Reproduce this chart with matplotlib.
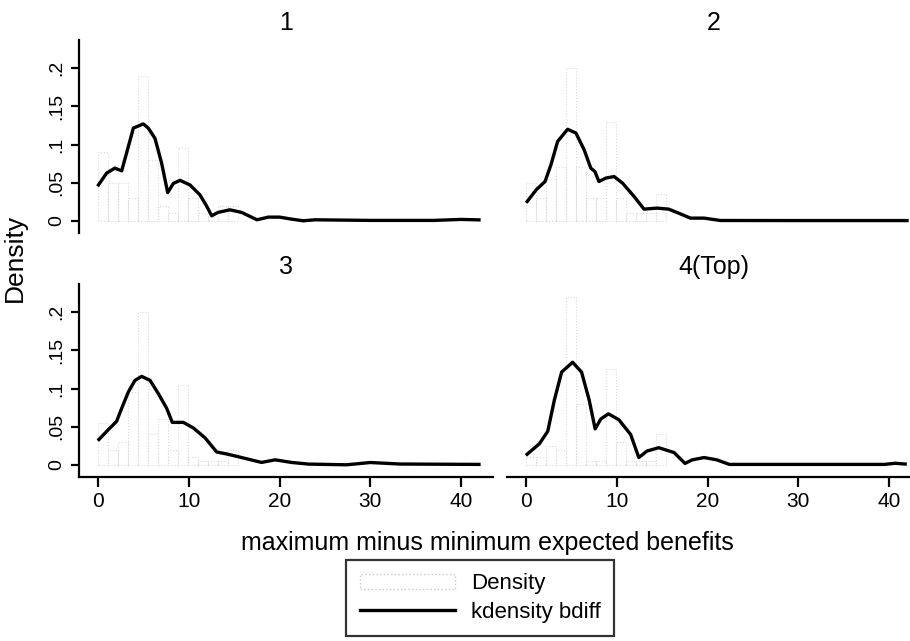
import matplotlib
matplotlib.use('Agg')
import matplotlib.pyplot as plt
from matplotlib.patches import Patch
from matplotlib.lines import Line2D

plt.rcParams['font.family'] = ['Liberation Sans', 'DejaVu Sans']

# kdensity of bdiff by group (x = benefit difference, y = density)
k1_x = [0, 0.9, 1.8, 2.56, 3.1, 3.85, 4.95, 5.5, 6.24, 6.97, 7.64, 8.27, 9.0, 10.1, 11.2, 11.95, 12.5,
        13.2, 14.5, 15.8, 17.5, 18.75, 20.0, 21.3, 22.6, 23.9, 30, 37, 40, 42]
k1_y = [0.047, 0.0625, 0.069, 0.0655, 0.0887, 0.1215, 0.127, 0.1215, 0.108, 0.0756, 0.037, 0.049, 0.053,
        0.047, 0.034, 0.019, 0.0066, 0.011, 0.0144, 0.011, 0.0013, 0.0048, 0.0048, 0.0022, 0.0, 0.0013,
        0.0005, 0.0005, 0.0018, 0.0012]

k2_x = [0.08, 1.07, 2.05, 2.7, 3.44, 4.54, 5.46, 6.37, 7.1, 7.55, 8.0, 8.76, 9.67, 10.6, 11.87, 12.97,
        14.4, 15.7, 16.8, 18.1, 19.6, 21.4, 30, 42]
k2_y = [0.0253, 0.0406, 0.0515, 0.0734, 0.104, 0.120, 0.115, 0.093, 0.069, 0.0646, 0.0515, 0.056, 0.058,
        0.0494, 0.032, 0.0153, 0.0166, 0.0153, 0.010, 0.0035, 0.0035, 0.0004, 0.0003, 0.0003]

k3_x = [0.05, 1.08, 2.0, 2.56, 3.3, 4.03, 4.77, 5.69, 6.6, 7.53, 8.15, 9.37, 10.47, 11.76, 13.05, 14.3,
        15.8, 18.0, 19.5, 21.3, 23.2, 27.4, 30.0, 33.3, 42]
k3_y = [0.0332, 0.046, 0.0569, 0.074, 0.0956, 0.1107, 0.1159, 0.1107, 0.0935, 0.074, 0.0556, 0.0556,
        0.0483, 0.0354, 0.0168, 0.0138, 0.0095, 0.0031, 0.0065, 0.0031, 0.0009, 0.0, 0.003, 0.001, 0.0005]

k4_x = [0.07, 1.43, 2.35, 3.08, 3.88, 5.09, 6.08, 6.92, 7.58, 8.2, 9.05, 10.2, 11.5, 12.4, 13.3, 14.6,
        16.3, 17.5, 18.3, 19.6, 21.0, 22.4, 24, 39.5, 40.7, 41.8]
k4_y = [0.0138, 0.0276, 0.044, 0.085, 0.1215, 0.1344, 0.1215, 0.085, 0.047, 0.06, 0.0668, 0.059, 0.0397,
        0.0095, 0.018, 0.0224, 0.016, 0.0018, 0.0065, 0.0095, 0.0065, 0.0005, 0.0005, 0.0005, 0.002, 0.001]

# histogram heights, bins of width 1.1 starting at 0
bin_w = 1.1
h1 = [0.09, 0.05, 0.05, 0.03, 0.19, 0.08, 0.02, 0.01, 0.095, 0.03, 0.01, 0.005, 0.02, 0.02]
h2 = [0.05, 0.03, 0.055, 0.07, 0.2, 0.07, 0.03, 0.03, 0.13, 0.03, 0.01, 0.01, 0.01, 0.035]
h3 = [0.055, 0.02, 0.03, 0.095, 0.2, 0.04, 0.06, 0.02, 0.105, 0.01, 0.005, 0.005, 0.005, 0.02]
h4 = [0.01, 0.01, 0.025, 0.02, 0.22, 0.08, 0.005, 0.005, 0.125, 0.03, 0.005, 0.005, 0.005, 0.04]

groups = ['1', '2', '3', '4(Top)']
kx = [k1_x, k2_x, k3_x, k4_x]
ky = [k1_y, k2_y, k3_y, k4_y]
hist = [h1, h2, h3, h4]

yticks = [0, 0.05, 0.1, 0.15, 0.2]
ytick_labels = ['0', '.05', '.1', '.15', '.2']
xticks = [0, 10, 20, 30, 40]

W, H = 910.0, 641.0
fig = plt.figure(figsize=(9.1, 6.41), dpi=100)

# panel boxes in pixels: left, top (all the same size)
boxes = [(79, 40), (507, 40), (79, 284), (507, 284)]
pw, ph = 414, 193

for i in range(4):
    left, top = boxes[i]
    ax = fig.add_axes([left / W, 1 - (top + ph) / H, pw / W, ph / H])
    ax.patch.set_alpha(0)

    # histogram bars: very faint dotted outlines
    edges = [n * bin_w for n in range(len(hist[i]))]
    ax.bar(edges, hist[i], width=bin_w, align='edge', fill=False,
           edgecolor='#dadada', linestyle=':', linewidth=0.8)
    ax.plot(kx[i], ky[i], color='black', linewidth=2.4, solid_joinstyle='round')

    ax.set_xlim(-2.15, 43.55)
    ax.set_ylim(-0.016, 0.237)
    for s in ['top', 'right', 'left', 'bottom']:
        ax.spines[s].set_visible(False)

    if i % 2 == 0:
        ax.spines['left'].set_visible(True)
        ax.spines['left'].set_linewidth(1.6)
        ax.set_yticks(yticks)
        ax.set_yticklabels(ytick_labels, rotation=90, va='center', fontsize=14)
        ax.tick_params(axis='y', direction='out', length=6, width=1.6, pad=4)
    else:
        ax.set_yticks([])

    if i >= 2:
        ax.spines['bottom'].set_visible(True)
        ax.spines['bottom'].set_linewidth(1.6)
        ax.set_xticks(xticks)
        ax.set_xticklabels([str(t) for t in xticks], fontsize=15)
        ax.tick_params(axis='x', direction='out', length=7, width=1.6, pad=4)
    else:
        ax.set_xticks([])

    ax.text(0.5, 1 + 17.0 / ph, groups[i], transform=ax.transAxes,
            ha='center', va='center', fontsize=18)

fig.text(15 / W, 1 - 258 / H, 'Density', rotation=90, ha='center', va='center', fontsize=19)
fig.text(487 / W, 1 - 543 / H, 'maximum minus minimum expected benefits',
         ha='center', va='center', fontsize=18)

handles = [Patch(facecolor='none', edgecolor='#c8c8c8', linestyle=':', linewidth=1.0),
           Line2D([0], [0], color='black', linewidth=2.4)]
leg = fig.legend(handles, ['Density', 'kdensity bdiff'], loc='upper center',
                 bbox_to_anchor=(480 / W, 1 - 560 / H), fontsize=16, frameon=True,
                 fancybox=False, edgecolor='black', borderpad=0.6, handlelength=4.3,
                 handletextpad=0.7, labelspacing=0.35, borderaxespad=0)
leg.get_frame().set_linewidth(1.6)

fig.savefig('out.png', dpi=100)
